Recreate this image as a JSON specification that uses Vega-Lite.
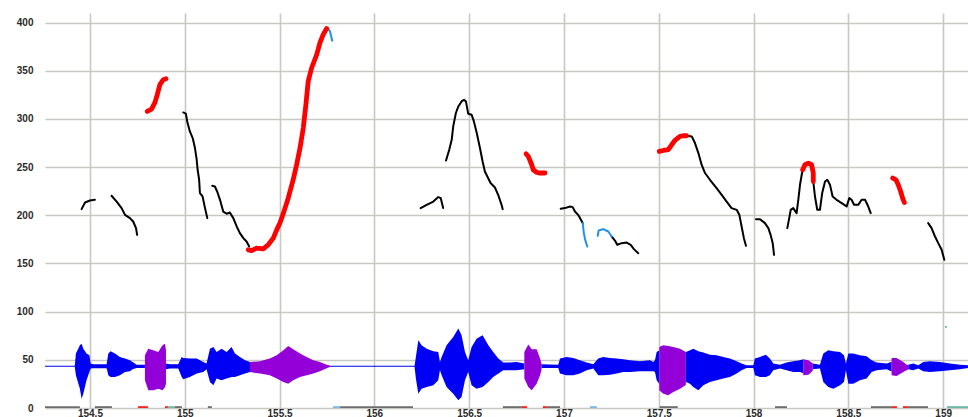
{
"$schema": "https://vega.github.io/schema/vega-lite/v6.json",
"width": 923, "height": 395,
"autosize": "none",
"padding": {"left": 45, "top": 13, "right": 0, "bottom": 9},
"background": "white",
"config": {"view": {"stroke": null},
  "axis": {"domain": false, "ticks": false, "grid": true, "gridColor": "#c8c8c2", "gridWidth": 1.6, "labelFont": "Liberation Sans", "labelFontSize": 10, "labelFontWeight": "bold", "labelColor": "#2a2a2a"}},
"datasets": {
"pitch": [
{"t":154.456,"f":206.4,"s":1,"k":"n"},{"t":154.474,"f":213.3,"s":1,"k":"n"},{"t":154.5,"f":215.4,"s":1,"k":"n"},{"t":154.526,"f":216.1,"s":1,"k":"n"},
{"t":154.614,"f":220.3,"s":2,"k":"n"},{"t":154.641,"f":214.3,"s":2,"k":"n"},{"t":154.667,"f":207.5,"s":2,"k":"n"},{"t":154.685,"f":200.5,"s":2,"k":"n"},{"t":154.711,"f":197.1,"s":2,"k":"n"},{"t":154.728,"f":193.6,"s":2,"k":"n"},{"t":154.743,"f":186.7,"s":2,"k":"n"},{"t":154.749,"f":179.7,"s":2,"k":"n"},
{"t":154.802,"f":307.8,"s":3,"k":"r"},{"t":154.825,"f":310.3,"s":3,"k":"r"},{"t":154.843,"f":317.2,"s":3,"k":"r"},{"t":154.855,"f":325.2,"s":3,"k":"r"},{"t":154.869,"f":335.6,"s":3,"k":"r"},{"t":154.887,"f":340.8,"s":3,"k":"r"},{"t":154.901,"f":341.8,"s":3,"k":"r"},
{"t":154.992,"f":306.8,"s":4,"k":"n"},{"t":155.006,"f":305.5,"s":4,"k":"n"},{"t":155.013,"f":297.5,"s":4,"k":"n"},{"t":155.027,"f":287.1,"s":4,"k":"n"},{"t":155.042,"f":280.2,"s":4,"k":"n"},{"t":155.054,"f":269.8,"s":4,"k":"n"},{"t":155.063,"f":257.7,"s":4,"k":"n"},{"t":155.068,"f":247.3,"s":4,"k":"n"},{"t":155.076,"f":236.9,"s":4,"k":"n"},{"t":155.080,"f":223.1,"s":4,"k":"n"},{"t":155.094,"f":219.6,"s":4,"k":"n"},{"t":155.107,"f":207.5,"s":4,"k":"n"},{"t":155.119,"f":197.1,"s":4,"k":"n"},
{"t":155.145,"f":230.6,"s":5,"k":"n"},{"t":155.159,"f":229.9,"s":5,"k":"n"},{"t":155.171,"f":224.7,"s":5,"k":"n"},{"t":155.186,"f":216.1,"s":5,"k":"n"},{"t":155.203,"f":203.9,"s":5,"k":"n"},{"t":155.221,"f":201.6,"s":5,"k":"n"},{"t":155.238,"f":202.9,"s":5,"k":"n"},{"t":155.256,"f":197.1,"s":5,"k":"n"},{"t":155.274,"f":188.4,"s":5,"k":"n"},{"t":155.291,"f":181.5,"s":5,"k":"n"},{"t":155.309,"f":176.3,"s":5,"k":"n"},{"t":155.326,"f":172.8,"s":5,"k":"n"},{"t":155.340,"f":167.6,"s":5,"k":"n"},
{"t":155.335,"f":164.2,"s":6,"k":"r"},{"t":155.353,"f":163.4,"s":6,"k":"r"},{"t":155.379,"f":165.9,"s":6,"k":"r"},{"t":155.414,"f":165.2,"s":6,"k":"r"},{"t":155.440,"f":169.4,"s":6,"k":"r"},{"t":155.467,"f":176.3,"s":6,"k":"r"},{"t":155.485,"f":184.9,"s":6,"k":"r"},{"t":155.502,"f":192,"s":6,"k":"r"},{"t":155.520,"f":202,"s":6,"k":"r"},{"t":155.546,"f":218,"s":6,"k":"r"},{"t":155.572,"f":237,"s":6,"k":"r"},{"t":155.590,"f":252.5,"s":6,"k":"r"},{"t":155.608,"f":269.8,"s":6,"k":"r"},{"t":155.625,"f":290.6,"s":6,"k":"r"},{"t":155.639,"f":314.8,"s":6,"k":"r"},{"t":155.651,"f":339.0,"s":6,"k":"r"},{"t":155.669,"f":352.9,"s":6,"k":"r"},{"t":155.696,"f":366.8,"s":6,"k":"r"},{"t":155.713,"f":378.9,"s":6,"k":"r"},{"t":155.730,"f":387.5,"s":6,"k":"r"},{"t":155.748,"f":393.8,"s":6,"k":"r"},
{"t":155.748,"f":393.8,"s":7,"k":"b"},{"t":155.752,"f":394.5,"s":7,"k":"b"},{"t":155.766,"f":391.0,"s":7,"k":"b"},{"t":155.778,"f":381.3,"s":7,"k":"b"},
{"t":156.244,"f":207.5,"s":8,"k":"n"},{"t":156.276,"f":210.9,"s":8,"k":"n"},{"t":156.311,"f":214.3,"s":8,"k":"n"},{"t":156.337,"f":218.9,"s":8,"k":"n"},{"t":156.350,"f":217.9,"s":8,"k":"n"},{"t":156.363,"f":207.5,"s":8,"k":"n"},
{"t":156.378,"f":256.9,"s":9,"k":"n"},{"t":156.395,"f":268.1,"s":9,"k":"n"},{"t":156.408,"f":278.4,"s":9,"k":"n"},{"t":156.416,"f":292.3,"s":9,"k":"n"},{"t":156.430,"f":306.2,"s":9,"k":"n"},{"t":156.443,"f":313.0,"s":9,"k":"n"},{"t":156.460,"f":318.2,"s":9,"k":"n"},{"t":156.473,"f":320.0,"s":9,"k":"n"},{"t":156.483,"f":318.2,"s":9,"k":"n"},{"t":156.495,"f":305.5,"s":9,"k":"n"},{"t":156.513,"f":304.4,"s":9,"k":"n"},{"t":156.525,"f":297.5,"s":9,"k":"n"},{"t":156.540,"f":285.4,"s":9,"k":"n"},{"t":156.557,"f":269.8,"s":9,"k":"n"},{"t":156.571,"f":255.9,"s":9,"k":"n"},{"t":156.583,"f":245.5,"s":9,"k":"n"},{"t":156.596,"f":240.3,"s":9,"k":"n"},{"t":156.613,"f":233.5,"s":9,"k":"n"},{"t":156.636,"f":228.9,"s":9,"k":"n"},{"t":156.653,"f":221.3,"s":9,"k":"n"},{"t":156.671,"f":210.9,"s":9,"k":"n"},{"t":156.677,"f":206.4,"s":9,"k":"n"},
{"t":156.800,"f":263.9,"s":10,"k":"r"},{"t":156.812,"f":261.1,"s":10,"k":"r"},{"t":156.830,"f":252.5,"s":10,"k":"r"},{"t":156.838,"f":247.3,"s":10,"k":"r"},{"t":156.856,"f":244.5,"s":10,"k":"r"},{"t":156.873,"f":243.9,"s":10,"k":"r"},{"t":156.900,"f":243.9,"s":10,"k":"r"},
{"t":156.983,"f":206.8,"s":11,"k":"n"},{"t":157.005,"f":207.5,"s":11,"k":"n"},{"t":157.032,"f":209.1,"s":11,"k":"n"},{"t":157.046,"f":208.5,"s":11,"k":"n"},{"t":157.058,"f":203.9,"s":11,"k":"n"},{"t":157.075,"f":200.5,"s":11,"k":"n"},{"t":157.088,"f":196.0,"s":11,"k":"n"},{"t":157.099,"f":191.9,"s":11,"k":"n"},
{"t":157.099,"f":191.9,"s":12,"k":"b"},{"t":157.105,"f":181.5,"s":12,"k":"b"},{"t":157.112,"f":174.5,"s":12,"k":"b"},{"t":157.123,"f":167.6,"s":12,"k":"b"},
{"t":157.178,"f":178.7,"s":13,"k":"b"},{"t":157.183,"f":184.2,"s":13,"k":"b"},{"t":157.207,"f":185.7,"s":13,"k":"b"},{"t":157.234,"f":183.2,"s":13,"k":"b"},{"t":157.252,"f":178.0,"s":13,"k":"b"},
{"t":157.252,"f":178.0,"s":14,"k":"n"},{"t":157.269,"f":173.8,"s":14,"k":"n"},{"t":157.281,"f":169.4,"s":14,"k":"n"},{"t":157.304,"f":171.1,"s":14,"k":"n"},{"t":157.331,"f":171.7,"s":14,"k":"n"},{"t":157.352,"f":169.4,"s":14,"k":"n"},{"t":157.369,"f":164.9,"s":14,"k":"n"},{"t":157.392,"f":160.7,"s":14,"k":"n"},
{"t":157.503,"f":266.3,"s":15,"k":"r"},{"t":157.524,"f":267.3,"s":15,"k":"r"},{"t":157.550,"f":268.1,"s":15,"k":"r"},{"t":157.568,"f":273.2,"s":15,"k":"r"},{"t":157.585,"f":277.7,"s":15,"k":"r"},{"t":157.612,"f":281.9,"s":15,"k":"r"},{"t":157.633,"f":282.6,"s":15,"k":"r"},{"t":157.647,"f":282.6,"s":15,"k":"r"},
{"t":157.647,"f":282.6,"s":16,"k":"n"},{"t":157.674,"f":281.9,"s":16,"k":"n"},{"t":157.691,"f":275.0,"s":16,"k":"n"},{"t":157.709,"f":264.6,"s":16,"k":"n"},{"t":157.726,"f":252.5,"s":16,"k":"n"},{"t":157.744,"f":243.9,"s":16,"k":"n"},{"t":157.770,"f":236.9,"s":16,"k":"n"},{"t":157.805,"f":228.3,"s":16,"k":"n"},{"t":157.832,"f":221.3,"s":16,"k":"n"},{"t":157.858,"f":214.3,"s":16,"k":"n"},{"t":157.884,"f":207.5,"s":16,"k":"n"},{"t":157.911,"f":205.7,"s":16,"k":"n"},{"t":157.925,"f":200.5,"s":16,"k":"n"},{"t":157.937,"f":188.4,"s":16,"k":"n"},{"t":157.949,"f":176.3,"s":16,"k":"n"},{"t":157.960,"f":168.3,"s":16,"k":"n"},
{"t":158.013,"f":196.0,"s":17,"k":"n"},{"t":158.034,"f":196.0,"s":17,"k":"n"},{"t":158.060,"f":191.9,"s":17,"k":"n"},{"t":158.078,"f":186.7,"s":17,"k":"n"},{"t":158.090,"f":179.7,"s":17,"k":"n"},{"t":158.101,"f":171.1,"s":17,"k":"n"},{"t":158.108,"f":159.0,"s":17,"k":"n"},
{"t":158.178,"f":186.7,"s":18,"k":"n"},{"t":158.188,"f":197.1,"s":18,"k":"n"},{"t":158.196,"f":205.7,"s":18,"k":"n"},{"t":158.209,"f":207.5,"s":18,"k":"n"},{"t":158.227,"f":202.3,"s":18,"k":"n"},{"t":158.236,"f":216.1,"s":18,"k":"n"},{"t":158.245,"f":231.7,"s":18,"k":"n"},{"t":158.254,"f":242.1,"s":18,"k":"n"},{"t":158.259,"f":247.3,"s":18,"k":"n"},
{"t":158.259,"f":247.3,"s":19,"k":"r"},{"t":158.271,"f":252.5,"s":19,"k":"r"},{"t":158.289,"f":254.2,"s":19,"k":"r"},{"t":158.306,"f":252.5,"s":19,"k":"r"},{"t":158.315,"f":243.9,"s":19,"k":"r"},{"t":158.315,"f":235.1,"s":19,"k":"r"},
{"t":158.315,"f":235.1,"s":20,"k":"n"},{"t":158.324,"f":219.5,"s":20,"k":"n"},{"t":158.336,"f":205.7,"s":20,"k":"n"},{"t":158.350,"f":205.7,"s":20,"k":"n"},{"t":158.362,"f":223.1,"s":20,"k":"n"},{"t":158.377,"f":235.1,"s":20,"k":"n"},{"t":158.389,"f":236.9,"s":20,"k":"n"},{"t":158.403,"f":231.7,"s":20,"k":"n"},{"t":158.417,"f":219.5,"s":20,"k":"n"},{"t":158.438,"f":216.1,"s":20,"k":"n"},{"t":158.465,"f":212.7,"s":20,"k":"n"},{"t":158.491,"f":209.1,"s":20,"k":"n"},{"t":158.505,"f":217.9,"s":20,"k":"n"},{"t":158.517,"f":216.1,"s":20,"k":"n"},{"t":158.530,"f":210.9,"s":20,"k":"n"},{"t":158.552,"f":210.9,"s":20,"k":"n"},{"t":158.570,"f":216.1,"s":20,"k":"n"},{"t":158.588,"f":216.1,"s":20,"k":"n"},{"t":158.605,"f":209.1,"s":20,"k":"n"},{"t":158.618,"f":202.3,"s":20,"k":"n"},
{"t":158.734,"f":238.7,"s":21,"k":"r"},{"t":158.751,"f":236.9,"s":21,"k":"r"},{"t":158.763,"f":231.7,"s":21,"k":"r"},{"t":158.776,"f":224.7,"s":21,"k":"r"},{"t":158.786,"f":217.9,"s":21,"k":"r"},{"t":158.795,"f":213.3,"s":21,"k":"r"},
{"t":158.921,"f":191.9,"s":22,"k":"n"},{"t":158.939,"f":186.7,"s":22,"k":"n"},{"t":158.957,"f":178.0,"s":22,"k":"n"},{"t":158.974,"f":171.1,"s":22,"k":"n"},{"t":158.992,"f":164.2,"s":22,"k":"n"},{"t":159.006,"f":153.8,"s":22,"k":"n"}
],
"wave": [
{"t":154.236,"hi":43.9,"lo":42.7,"s":1,"k":"v"},{"t":154.42,"hi":43.9,"lo":42.7,"s":1,"k":"v"},{"t":154.426,"hi":56.5,"lo":34.0,"s":1,"k":"v"},{"t":154.447,"hi":65.1,"lo":20.1,"s":1,"k":"v"},{"t":154.456,"hi":66.8,"lo":9.7,"s":1,"k":"v"},{"t":154.465,"hi":61.6,"lo":14.9,"s":1,"k":"v"},{"t":154.482,"hi":56.5,"lo":28.7,"s":1,"k":"v"},{"t":154.497,"hi":54.7,"lo":37.4,"s":1,"k":"v"},{"t":154.504,"hi":46.1,"lo":40.9,"s":1,"k":"v"},{"t":154.518,"hi":45.4,"lo":41.2,"s":1,"k":"v"},{"t":154.588,"hi":45.4,"lo":41.2,"s":1,"k":"v"},{"t":154.597,"hi":56.5,"lo":34.0,"s":1,"k":"v"},{"t":154.609,"hi":58.9,"lo":32.2,"s":1,"k":"v"},{"t":154.632,"hi":56.5,"lo":32.2,"s":1,"k":"v"},{"t":154.658,"hi":53.0,"lo":34.0,"s":1,"k":"v"},{"t":154.685,"hi":51.3,"lo":37.4,"s":1,"k":"v"},{"t":154.711,"hi":49.5,"lo":38.1,"s":1,"k":"v"},{"t":154.725,"hi":47.8,"lo":40.2,"s":1,"k":"v"},{"t":154.746,"hi":45.0,"lo":41.6,"s":1,"k":"v"},{"t":154.790,"hi":45.0,"lo":41.6,"s":1,"k":"v"},
{"t":154.790,"hi":54.7,"lo":28.7,"s":2,"k":"u"},{"t":154.808,"hi":61.6,"lo":18.3,"s":2,"k":"u"},{"t":154.834,"hi":59.9,"lo":18.3,"s":2,"k":"u"},{"t":154.860,"hi":58.2,"lo":20.1,"s":2,"k":"u"},{"t":154.883,"hi":65.1,"lo":18.3,"s":2,"k":"u"},{"t":154.896,"hi":66.8,"lo":21.8,"s":2,"k":"u"},{"t":154.901,"hi":60,"lo":25,"s":2,"k":"u"},
{"t":154.901,"hi":46.1,"lo":40.2,"s":3,"k":"v"},{"t":154.922,"hi":45.4,"lo":40.9,"s":3,"k":"v"},{"t":154.966,"hi":45.4,"lo":40.9,"s":3,"k":"v"},{"t":154.984,"hi":53.0,"lo":32.2,"s":3,"k":"v"},{"t":154.992,"hi":52.0,"lo":29.8,"s":3,"k":"v"},{"t":155.027,"hi":51.3,"lo":32.2,"s":3,"k":"v"},{"t":155.063,"hi":51.3,"lo":35.7,"s":3,"k":"v"},{"t":155.098,"hi":47.8,"lo":37.4,"s":3,"k":"v"},{"t":155.115,"hi":46.1,"lo":40.2,"s":3,"k":"v"},{"t":155.133,"hi":61.6,"lo":27.0,"s":3,"k":"v"},{"t":155.151,"hi":63.4,"lo":23.5,"s":3,"k":"v"},{"t":155.168,"hi":58.2,"lo":30.5,"s":3,"k":"v"},{"t":155.194,"hi":61.6,"lo":28.7,"s":3,"k":"v"},{"t":155.221,"hi":58.2,"lo":30.5,"s":3,"k":"v"},{"t":155.247,"hi":63.4,"lo":32.2,"s":3,"k":"v"},{"t":155.265,"hi":56.5,"lo":32.2,"s":3,"k":"v"},{"t":155.291,"hi":53.0,"lo":34.0,"s":3,"k":"v"},{"t":155.318,"hi":49.5,"lo":35.7,"s":3,"k":"v"},{"t":155.344,"hi":47.8,"lo":37.4,"s":3,"k":"v"},
{"t":155.344,"hi":47.8,"lo":37.4,"s":4,"k":"u"},{"t":155.397,"hi":48.5,"lo":35.7,"s":4,"k":"u"},{"t":155.449,"hi":51.3,"lo":34.0,"s":4,"k":"u"},{"t":155.485,"hi":54.7,"lo":30.5,"s":4,"k":"u"},{"t":155.520,"hi":59.9,"lo":27.0,"s":4,"k":"u"},{"t":155.546,"hi":64.4,"lo":25.3,"s":4,"k":"u"},{"t":155.572,"hi":61.0,"lo":28.7,"s":4,"k":"u"},{"t":155.608,"hi":56.5,"lo":32.2,"s":4,"k":"u"},{"t":155.643,"hi":53.0,"lo":34.0,"s":4,"k":"u"},{"t":155.678,"hi":49.5,"lo":35.7,"s":4,"k":"u"},{"t":155.713,"hi":47.8,"lo":38.1,"s":4,"k":"u"},{"t":155.748,"hi":45.0,"lo":41.2,"s":4,"k":"u"},{"t":155.766,"hi":44.0,"lo":42.5,"s":4,"k":"u"},
{"t":155.766,"hi":43.9,"lo":42.7,"s":5,"k":"v"},{"t":156.212,"hi":43.9,"lo":42.7,"s":5,"k":"v"},{"t":156.219,"hi":53.0,"lo":30.5,"s":5,"k":"v"},{"t":156.232,"hi":70.3,"lo":14.9,"s":5,"k":"v"},{"t":156.249,"hi":65.1,"lo":20.1,"s":5,"k":"v"},{"t":156.276,"hi":61.6,"lo":21.8,"s":5,"k":"v"},{"t":156.311,"hi":58.9,"lo":23.5,"s":5,"k":"v"},{"t":156.337,"hi":58.2,"lo":28.7,"s":5,"k":"v"},{"t":156.346,"hi":47.8,"lo":39.1,"s":5,"k":"v"},{"t":156.355,"hi":53.0,"lo":34.0,"s":5,"k":"v"},{"t":156.381,"hi":65.1,"lo":21.8,"s":5,"k":"v"},{"t":156.416,"hi":73.8,"lo":14.9,"s":5,"k":"v"},{"t":156.443,"hi":82.4,"lo":8.0,"s":5,"k":"v"},{"t":156.460,"hi":75.5,"lo":11.4,"s":5,"k":"v"},{"t":156.478,"hi":58.2,"lo":28.7,"s":5,"k":"v"},{"t":156.495,"hi":49.5,"lo":37.4,"s":5,"k":"v"},{"t":156.513,"hi":63.4,"lo":23.5,"s":5,"k":"v"},{"t":156.539,"hi":72.0,"lo":20.1,"s":5,"k":"v"},{"t":156.571,"hi":75.5,"lo":21.8,"s":5,"k":"v"},{"t":156.601,"hi":65.1,"lo":27.0,"s":5,"k":"v"},{"t":156.627,"hi":58.2,"lo":32.2,"s":5,"k":"v"},{"t":156.654,"hi":51.3,"lo":35.7,"s":5,"k":"v"},{"t":156.680,"hi":47.1,"lo":39.1,"s":5,"k":"v"},{"t":156.715,"hi":47.1,"lo":39.1,"s":5,"k":"v"},{"t":156.750,"hi":47.8,"lo":39.1,"s":5,"k":"v"},{"t":156.791,"hi":46.1,"lo":40.2,"s":5,"k":"v"},
{"t":156.791,"hi":58.2,"lo":30.5,"s":6,"k":"u"},{"t":156.812,"hi":65.8,"lo":21.8,"s":6,"k":"u"},{"t":156.830,"hi":61.0,"lo":18.3,"s":6,"k":"u"},{"t":156.856,"hi":61.0,"lo":25.3,"s":6,"k":"u"},{"t":156.874,"hi":51.3,"lo":34.0,"s":6,"k":"u"},{"t":156.882,"hi":46.0,"lo":40.0,"s":6,"k":"u"},
{"t":156.882,"hi":45.4,"lo":41.6,"s":7,"k":"v"},{"t":156.970,"hi":45.0,"lo":41.6,"s":7,"k":"v"},{"t":156.979,"hi":51.3,"lo":35.7,"s":7,"k":"v"},{"t":157.014,"hi":53.0,"lo":34.0,"s":7,"k":"v"},{"t":157.049,"hi":52.0,"lo":34.0,"s":7,"k":"v"},{"t":157.084,"hi":49.5,"lo":35.7,"s":7,"k":"v"},{"t":157.120,"hi":47.1,"lo":39.1,"s":7,"k":"v"},{"t":157.155,"hi":45.4,"lo":40.9,"s":7,"k":"v"},{"t":157.181,"hi":51.3,"lo":34.0,"s":7,"k":"v"},{"t":157.207,"hi":53.0,"lo":34.0,"s":7,"k":"v"},{"t":157.243,"hi":52.0,"lo":34.6,"s":7,"k":"v"},{"t":157.278,"hi":51.3,"lo":35.7,"s":7,"k":"v"},{"t":157.313,"hi":50.5,"lo":37.4,"s":7,"k":"v"},{"t":157.348,"hi":49.5,"lo":37.4,"s":7,"k":"v"},{"t":157.401,"hi":48.5,"lo":38.1,"s":7,"k":"v"},{"t":157.454,"hi":49.5,"lo":38.1,"s":7,"k":"v"},{"t":157.471,"hi":47.8,"lo":38.1,"s":7,"k":"v"},{"t":157.480,"hi":49.5,"lo":37.4,"s":7,"k":"v"},{"t":157.489,"hi":58.2,"lo":28.7,"s":7,"k":"v"},{"t":157.503,"hi":60,"lo":25,"s":7,"k":"v"},
{"t":157.503,"hi":63.4,"lo":18.3,"s":8,"k":"u"},{"t":157.524,"hi":65.1,"lo":14.9,"s":8,"k":"u"},{"t":157.550,"hi":64.4,"lo":13.2,"s":8,"k":"u"},{"t":157.577,"hi":63.4,"lo":16.6,"s":8,"k":"u"},{"t":157.612,"hi":61.6,"lo":20.1,"s":8,"k":"u"},{"t":157.643,"hi":58.2,"lo":24.0,"s":8,"k":"u"},
{"t":157.643,"hi":58.2,"lo":27.0,"s":9,"k":"v"},{"t":157.665,"hi":59.9,"lo":25.3,"s":9,"k":"v"},{"t":157.682,"hi":61.6,"lo":21.8,"s":9,"k":"v"},{"t":157.709,"hi":58.9,"lo":18.3,"s":9,"k":"v"},{"t":157.735,"hi":57.5,"lo":23.5,"s":9,"k":"v"},{"t":157.770,"hi":55.4,"lo":27.0,"s":9,"k":"v"},{"t":157.805,"hi":54.7,"lo":28.7,"s":9,"k":"v"},{"t":157.840,"hi":53.0,"lo":30.5,"s":9,"k":"v"},{"t":157.875,"hi":51.3,"lo":32.2,"s":9,"k":"v"},{"t":157.911,"hi":48.5,"lo":35.7,"s":9,"k":"v"},{"t":157.937,"hi":46.1,"lo":39.1,"s":9,"k":"v"},{"t":157.963,"hi":44.3,"lo":41.6,"s":9,"k":"v"},{"t":157.999,"hi":44.3,"lo":41.6,"s":9,"k":"v"},{"t":158.007,"hi":51.3,"lo":34.0,"s":9,"k":"v"},{"t":158.034,"hi":53.0,"lo":32.2,"s":9,"k":"v"},{"t":158.065,"hi":55.4,"lo":32.2,"s":9,"k":"v"},{"t":158.086,"hi":51.3,"lo":34.0,"s":9,"k":"v"},{"t":158.104,"hi":46.1,"lo":39.1,"s":9,"k":"v"},{"t":158.139,"hi":45.0,"lo":40.9,"s":9,"k":"v"},{"t":158.174,"hi":47.1,"lo":39.1,"s":9,"k":"v"},{"t":158.210,"hi":48.5,"lo":37.4,"s":9,"k":"v"},{"t":158.245,"hi":49.5,"lo":37.4,"s":9,"k":"v"},{"t":158.262,"hi":50.5,"lo":36.0,"s":9,"k":"v"},
{"t":158.262,"hi":50.5,"lo":34.0,"s":10,"k":"u"},{"t":158.289,"hi":49.5,"lo":34.6,"s":10,"k":"u"},{"t":158.306,"hi":47.1,"lo":37.4,"s":10,"k":"u"},{"t":158.312,"hi":46.5,"lo":39.0,"s":10,"k":"u"},
{"t":158.312,"hi":46.1,"lo":40.2,"s":11,"k":"v"},{"t":158.350,"hi":45.0,"lo":40.9,"s":11,"k":"v"},{"t":158.368,"hi":56.5,"lo":27.0,"s":11,"k":"v"},{"t":158.394,"hi":59.9,"lo":21.8,"s":11,"k":"v"},{"t":158.421,"hi":58.9,"lo":20.1,"s":11,"k":"v"},{"t":158.456,"hi":58.2,"lo":23.5,"s":11,"k":"v"},{"t":158.477,"hi":54.7,"lo":27.0,"s":11,"k":"v"},{"t":158.487,"hi":46.1,"lo":39.1,"s":11,"k":"v"},{"t":158.500,"hi":56.5,"lo":25.3,"s":11,"k":"v"},{"t":158.526,"hi":56.5,"lo":25.3,"s":11,"k":"v"},{"t":158.561,"hi":54.7,"lo":28.7,"s":11,"k":"v"},{"t":158.596,"hi":53.7,"lo":30.5,"s":11,"k":"v"},{"t":158.623,"hi":49.5,"lo":37.4,"s":11,"k":"v"},{"t":158.649,"hi":47.1,"lo":39.1,"s":11,"k":"v"},{"t":158.702,"hi":46.1,"lo":40.2,"s":11,"k":"v"},{"t":158.728,"hi":48.0,"lo":38.0,"s":11,"k":"v"},
{"t":158.728,"hi":52.0,"lo":34.0,"s":12,"k":"u"},{"t":158.754,"hi":52.0,"lo":33.3,"s":12,"k":"u"},{"t":158.790,"hi":47.8,"lo":37.4,"s":12,"k":"u"},{"t":158.807,"hi":45.0,"lo":39.1,"s":12,"k":"u"},{"t":158.816,"hi":45.0,"lo":40.0,"s":12,"k":"u"},
{"t":158.816,"hi":45.0,"lo":40.2,"s":13,"k":"v"},{"t":158.842,"hi":46.1,"lo":39.1,"s":13,"k":"v"},{"t":158.869,"hi":44.3,"lo":40.9,"s":13,"k":"v"},{"t":158.895,"hi":47.8,"lo":38.1,"s":13,"k":"v"},{"t":158.930,"hi":48.5,"lo":37.4,"s":13,"k":"v"},{"t":158.983,"hi":47.8,"lo":38.1,"s":13,"k":"v"},{"t":159.036,"hi":46.1,"lo":39.1,"s":13,"k":"v"},{"t":159.089,"hi":45.0,"lo":40.2,"s":13,"k":"v"},{"t":159.131,"hi":44.3,"lo":41.6,"s":13,"k":"v"}
],
"tier": [
{"t":154.263,"t2":154.447,"k":"g"},{"t":154.526,"t2":154.616,"k":"g"},{"t":154.753,"t2":154.806,"k":"rr"},{"t":154.896,"t2":154.911,"k":"rr"},{"t":154.911,"t2":154.948,"k":"tl"},{"t":154.948,"t2":154.985,"k":"g"},{"t":155.122,"t2":155.143,"k":"g"},{"t":155.782,"t2":155.819,"k":"bl"},{"t":155.819,"t2":156.204,"k":"g"},{"t":156.678,"t2":156.778,"k":"g"},{"t":156.778,"t2":156.805,"k":"rr"},{"t":156.889,"t2":156.910,"k":"rr"},{"t":156.910,"t2":156.979,"k":"g"},{"t":157.137,"t2":157.174,"k":"bl"},{"t":157.505,"t2":157.600,"k":"g"},{"t":158.113,"t2":158.176,"k":"g"},{"t":158.619,"t2":158.730,"k":"g"},{"t":158.730,"t2":158.756,"k":"rr"},{"t":158.788,"t2":158.814,"k":"rr"},{"t":158.814,"t2":158.920,"k":"g"},{"t":159.020,"t2":159.131,"k":"tl"}
],
"dot": [{"t":159.015,"f":84.2,"k":"tl"}]
},
"layer": [
{"data": {"name": "wave"}, "mark": {"type": "area", "clip": true, "opacity": 1},
 "encoding": {
  "x": {"field": "t", "type": "quantitative", "title": null, "scale": {"domain": [154.263, 159.131], "nice": false, "zero": false}, "axis": {"values": [154.5,155,155.5,156,156.5,157,157.5,158,158.5,159], "format": "~g", "labelPadding": 0}},
  "y": {"field": "hi", "type": "quantitative", "title": null, "scale": {"domain": [0, 410], "nice": false}, "axis": {"values": [0,50,100,150,200,250,300,350,400], "labelPadding": 12}},
  "y2": {"field": "lo"},
  "detail": {"field": "s"},
  "color": {"field": "k", "type": "nominal", "legend": null, "scale": {"domain": ["v","u","n","r","b","g","rr","tl","bl"], "range": ["#0000f5","#9400d8","#000000","#ff0000","#1e90ee","#6e6e6e","#ff2020","#6fb8a8","#7fb8e8"]}}
 }},
{"data": {"name": "tier"}, "mark": {"type": "rule", "strokeWidth": 2.5, "clip": true},
 "encoding": {
  "x": {"field": "t", "type": "quantitative", "title": null},
  "x2": {"field": "t2"},
  "y": {"datum": 0.6},
  "color": {"field": "k", "type": "nominal", "legend": null}
 }},
{"data": {"name": "pitch"}, "transform": [{"filter": "datum.k === 'n'"}], "mark": {"type": "line", "clip": true, "strokeWidth": 2, "strokeCap": "round", "strokeJoin": "round"},
 "encoding": {
  "x": {"field": "t", "type": "quantitative", "title": null},
  "y": {"field": "f", "type": "quantitative", "title": null},
  "detail": {"field": "s"},
  "color": {"field": "k", "type": "nominal", "legend": null}
 }},
{"data": {"name": "pitch"}, "transform": [{"filter": "datum.k === 'b'"}], "mark": {"type": "line", "clip": true, "strokeWidth": 2, "strokeCap": "round", "strokeJoin": "round"},
 "encoding": {
  "x": {"field": "t", "type": "quantitative", "title": null},
  "y": {"field": "f", "type": "quantitative", "title": null},
  "detail": {"field": "s"},
  "color": {"field": "k", "type": "nominal", "legend": null}
 }},
{"data": {"name": "pitch"}, "transform": [{"filter": "datum.k === 'r'"}], "mark": {"type": "line", "clip": true, "strokeWidth": 4.8, "strokeCap": "round", "strokeJoin": "round"},
 "encoding": {
  "x": {"field": "t", "type": "quantitative", "title": null},
  "y": {"field": "f", "type": "quantitative", "title": null},
  "detail": {"field": "s"},
  "color": {"field": "k", "type": "nominal", "legend": null}
 }},
{"data": {"name": "dot"}, "mark": {"type": "point", "filled": true, "size": 5, "opacity": 1},
 "encoding": {
  "x": {"field": "t", "type": "quantitative", "title": null},
  "y": {"field": "f", "type": "quantitative", "title": null},
  "color": {"field": "k", "type": "nominal", "legend": null}
 }}
]
}
